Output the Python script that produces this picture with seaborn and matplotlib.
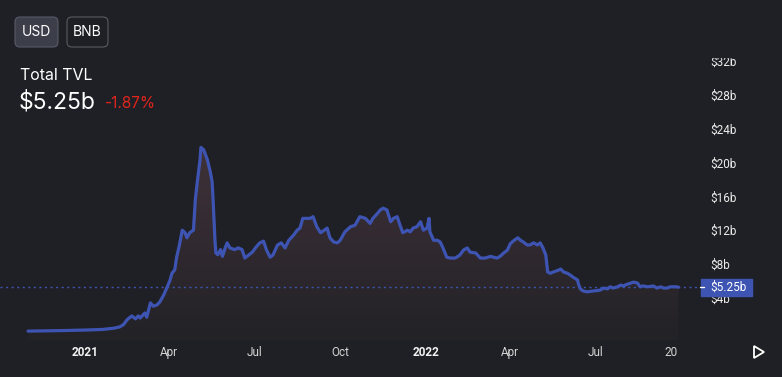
import numpy as np
import pandas as pd
import matplotlib
matplotlib.use('Agg')
import matplotlib.pyplot as plt
from matplotlib.patches import Rectangle, FancyBboxPatch, Polygon
from matplotlib.colors import LinearSegmentedColormap
import matplotlib.transforms as mtransforms
import seaborn as sns

# --- data (TVL in $ billions) ---
dates = [
    '2020-11-01', '2020-11-20', '2020-12-10', '2021-01-01', '2021-01-20', '2021-02-01',
    '2021-02-07', '2021-02-11', '2021-02-15', '2021-02-20', '2021-02-24', '2021-02-27',
    '2021-03-01', '2021-03-06', '2021-03-08', '2021-03-12', '2021-03-15', '2021-03-19',
    '2021-03-22', '2021-03-26', '2021-03-30', '2021-04-02', '2021-04-04', '2021-04-07',
    '2021-04-09', '2021-04-12', '2021-04-15', '2021-04-18', '2021-04-20', '2021-04-23',
    '2021-04-27', '2021-04-29', '2021-05-01', '2021-05-04', '2021-05-05', '2021-05-08',
    '2021-05-12', '2021-05-15', '2021-05-17', '2021-05-18', '2021-05-20', '2021-05-21',
    '2021-05-23', '2021-05-26', '2021-05-28', '2021-05-31', '2021-06-02', '2021-06-05',
    '2021-06-10', '2021-06-14', '2021-06-18', '2021-06-21', '2021-06-25', '2021-06-29',
    '2021-07-03', '2021-07-07', '2021-07-11', '2021-07-14', '2021-07-18', '2021-07-21',
    '2021-07-26', '2021-07-30', '2021-08-03', '2021-08-07', '2021-08-12', '2021-08-16',
    '2021-08-19', '2021-08-22', '2021-08-27', '2021-08-30', '2021-09-02', '2021-09-06',
    '2021-09-10', '2021-09-14', '2021-09-17', '2021-09-20', '2021-09-24', '2021-09-28',
    '2021-10-01', '2021-10-06', '2021-10-12', '2021-10-17', '2021-10-22', '2021-10-28',
    '2021-11-02', '2021-11-05', '2021-11-10', '2021-11-13', '2021-11-16', '2021-11-20',
    '2021-11-24', '2021-11-27', '2021-12-01', '2021-12-04', '2021-12-07', '2021-12-12',
    '2021-12-15', '2021-12-18', '2021-12-22', '2021-12-26', '2021-12-29', '2022-01-02',
    '2022-01-04', '2022-01-05', '2022-01-09', '2022-01-13', '2022-01-16', '2022-01-19',
    '2022-01-23', '2022-01-27', '2022-02-01', '2022-02-06', '2022-02-10', '2022-02-14',
    '2022-02-17', '2022-02-23', '2022-02-28', '2022-03-05', '2022-03-11', '2022-03-14',
    '2022-03-18', '2022-03-21', '2022-03-25', '2022-03-29', '2022-04-01', '2022-04-04',
    '2022-04-09', '2022-04-12', '2022-04-15', '2022-04-19', '2022-04-22', '2022-04-26',
    '2022-04-30', '2022-05-03', '2022-05-06', '2022-05-09', '2022-05-11', '2022-05-14',
    '2022-05-17', '2022-05-21', '2022-05-25', '2022-05-28', '2022-06-01', '2022-06-04',
    '2022-06-07', '2022-06-12', '2022-06-13', '2022-06-15', '2022-06-18', '2022-06-22',
    '2022-06-29', '2022-07-06', '2022-07-10', '2022-07-14', '2022-07-17', '2022-07-20',
    '2022-07-25', '2022-07-28', '2022-07-31', '2022-08-04', '2022-08-08', '2022-08-11',
    '2022-08-15', '2022-08-18', '2022-08-21', '2022-08-26', '2022-09-01', '2022-09-05',
    '2022-09-09', '2022-09-12', '2022-09-16', '2022-09-19', '2022-09-25', '2022-09-28',
]
tvl = [
    0.05, 0.08, 0.12, 0.18, 0.25, 0.40,
    0.55, 0.80, 1.40, 1.85, 1.50, 1.85,
    1.60, 2.20, 1.70, 3.40, 3.00, 3.15,
    3.50, 4.30, 5.30, 6.10, 6.90, 7.30,
    8.80, 10.25, 12.00, 11.70, 11.10, 11.70,
    12.00, 15.60, 17.60, 20.30, 21.80, 21.50,
    20.30, 18.90, 17.70, 15.60, 10.80, 9.30,
    9.10, 9.70, 8.90, 9.90, 10.50, 9.90,
    9.70, 9.90, 9.70, 8.70, 9.05, 9.40,
    10.00, 10.50, 10.70, 9.70, 8.80, 9.05,
    10.25, 10.50, 9.90, 10.80, 11.40, 12.00,
    12.25, 13.40, 13.40, 13.40, 13.60, 12.40,
    11.70, 12.00, 12.25, 11.10, 10.60, 10.50,
    10.80, 11.80, 12.40, 12.60, 13.60, 13.40,
    12.80, 13.40, 14.00, 14.40, 14.60, 14.40,
    13.00, 13.40, 13.60, 12.60, 11.70, 12.00,
    11.80, 12.25, 12.40, 13.00, 12.00, 12.25,
    13.40, 11.80, 10.80, 10.80, 10.60, 9.90,
    8.80, 8.70, 8.70, 9.05, 9.65, 9.90,
    9.40, 9.30, 8.70, 8.70, 8.90, 8.80,
    8.70, 8.90, 9.30, 9.65, 10.40, 10.70,
    11.10, 10.80, 10.60, 10.25, 10.25, 10.50,
    10.25, 10.50, 9.90, 9.05, 7.05, 6.90,
    7.05, 7.20, 7.40, 7.05, 6.90, 6.70,
    6.45, 6.10, 5.60, 5.05, 4.80, 4.70,
    4.80, 4.90, 5.15, 5.05, 5.30, 5.15,
    5.30, 5.50, 5.40, 5.60, 5.75, 5.85,
    5.75, 5.30, 5.40, 5.30, 5.40, 5.15,
    5.30, 5.15, 5.15, 5.30, 5.30, 5.25,
]

current_value = 5.25
current_label = '$5.25b'
change_label = '-1.87%'

xtick_dates = ['2021-01-01', '2021-04-01', '2021-07-01', '2021-10-01',
               '2022-01-01', '2022-04-01', '2022-07-01', '2022-09-20']
xtick_labels = ['2021', 'Apr', 'Jul', 'Oct', '2022', 'Apr', 'Jul', '20']
ytick_values = [4, 8, 12, 16, 20, 24, 28, 32]
ytick_labels = ['$4b', '$8b', '$12b', '$16b', '$20b', '$24b', '$28b', '$32b']

# --- style ---
BG = '#1f2025'
LINE = '#3e54b3'
W, H = 782, 377

sns.set_theme(style='dark', rc={
    'figure.facecolor': BG,
    'axes.facecolor': BG,
    'savefig.facecolor': BG,
})
plt.rcParams['font.family'] = ['Inter', 'DejaVu Sans']
TICK_FONT = ['Roboto', 'DejaVu Sans']

df = pd.DataFrame({'date': pd.to_datetime(dates), 'tvl': tvl})

fig = plt.figure(figsize=(W / 100, H / 100), dpi=100)
ax = fig.add_axes([0, 37 / H, 700 / W, (340 - 57) / H])

# gradient area under the line
poly = ax.fill_between(df['date'], df['tvl'], -1, color='none', lw=0)
x0 = matplotlib.dates.date2num(df['date'].iloc[0])
x1 = matplotlib.dates.date2num(df['date'].iloc[-1])
cmap = LinearSegmentedColormap.from_list('tvlfill', ['#222227', '#403239'])
grad = np.linspace(0, 1, 256).reshape(-1, 1)
im = ax.imshow(grad, extent=[x0, x1, -1, 22], origin='lower', aspect='auto',
               cmap=cmap, zorder=1, interpolation='bilinear')
im.set_clip_path(poly.get_paths()[0], transform=ax.transData)

sns.lineplot(data=df, x='date', y='tvl', color=LINE, lw=2.3, ax=ax, zorder=3)

ax.axhline(current_value, color=LINE, ls=(0, (1.5, 2.5)), lw=1.0, zorder=2)

ax.set_xlim(pd.Timestamp('2020-10-02'), pd.Timestamp('2022-10-21'))
ax.set_ylim(-1.0, 32.5)
ax.set_xlabel('')
ax.set_ylabel('')
ax.grid(False)
for s in ax.spines.values():
    s.set_visible(False)

# axis ticks
ax.set_xticks(pd.to_datetime(xtick_dates))
ax.set_xticklabels(xtick_labels, family=TICK_FONT)
ax.tick_params(axis='x', length=0, pad=4, labelsize=8.5, labelcolor='#d4d4d4')
for lab in ax.get_xticklabels():
    if lab.get_text() in ('2021', '2022'):
        lab.set_fontweight('bold')
        lab.set_color('#f2f2f2')

ax.yaxis.tick_right()
ax.set_yticks(ytick_values)
ax.set_yticklabels(ytick_labels, family=TICK_FONT)
ax.tick_params(axis='y', length=0, pad=7.5, labelsize=8.5, labelcolor='#ececec')

# hide top part of price scale (clips $32b like the original)
fig.add_artist(Rectangle((700 / W, (H - 57) / H), 82 / W, 57 / H,
                         transform=fig.transFigure, color=BG, zorder=10))

# current value label on the price scale
trans = mtransforms.blended_transform_factory(fig.transFigure, ax.transData)
ax.add_artist(Rectangle((701 / W, current_value - 1.0), 51 / W, 2.0, transform=trans,
                        color=LINE, zorder=11, clip_on=False))
ax.plot([700 / W, 704 / W], [current_value, current_value], transform=trans,
        color='white', lw=1.0, clip_on=False, zorder=12)
ax.text(710 / W, current_value, current_label, transform=trans, ha='left', va='center',
        color='white', fontsize=8.5, family=TICK_FONT, zorder=12, clip_on=False)

# header: buttons and title
inch = fig.dpi_scale_trans
fig.add_artist(FancyBboxPatch((0.15, (H - 47) / 100), 0.43, 0.30,
                              boxstyle='round,pad=0,rounding_size=0.05', transform=inch,
                              fc='#3c3e4a', ec='#585a66', lw=0.8))
fig.add_artist(FancyBboxPatch((0.67, (H - 47) / 100), 0.41, 0.30,
                              boxstyle='round,pad=0,rounding_size=0.05', transform=inch,
                              fc=BG, ec='#585a63', lw=0.8))
fig.text(36.5 / W, 1 - 32 / H, 'USD', ha='center', va='center', color='white', fontsize=10)
fig.text(87.5 / W, 1 - 32 / H, 'BNB', ha='center', va='center', color='white', fontsize=10)

fig.text(20 / W, 1 - 80 / H, 'Total TVL', ha='left', va='baseline', color='white', fontsize=11.5)
fig.text(19 / W, 1 - 108.5 / H, current_label, ha='left', va='baseline', color='white', fontsize=16.5)
fig.text(105 / W, 1 - 108.5 / H, change_label, ha='left', va='baseline', color='#e2251c', fontsize=11)

# play icon at bottom right
fig.add_artist(Polygon([[754 / W, 1 - 346 / H], [754 / W, 1 - 358 / H], [764 / W, 1 - 352 / H]],
                       closed=True, transform=fig.transFigure, fill=False,
                       ec='white', lw=1.3))

fig.savefig('out.png', dpi=100)
